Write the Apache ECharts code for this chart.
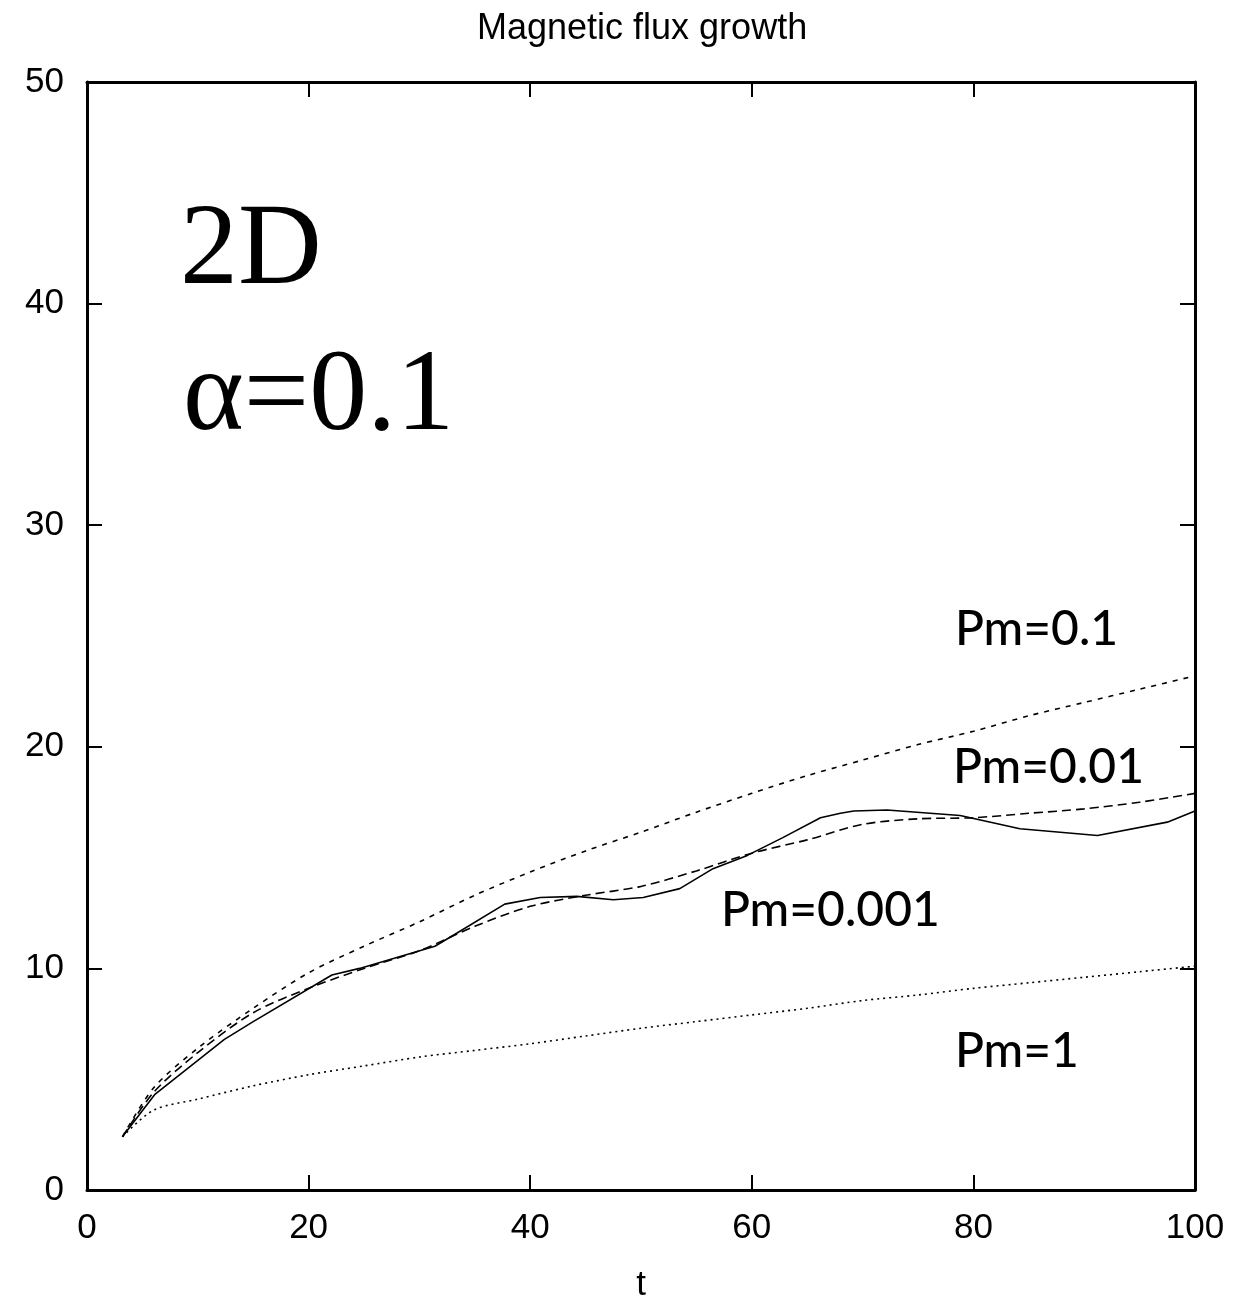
<!DOCTYPE html>
<html>
<head>
<meta charset="utf-8">
<script src="https://cdn.jsdelivr.net/npm/echarts@6/dist/echarts.min.js"></script>
<style>
  html, body { margin: 0; padding: 0; background: #fff; }
  #main { width: 1256px; height: 1299px; }
</style>
</head>
<body>
<div id="main"></div>
<script>
// 数据：时间和磁通值
var tSolid = [3.2, 6.1, 12.4, 15, 22.1, 24.6, 31.4, 33.4, 37.7, 40.9, 44.2, 47.5, 50.2, 53.5, 56.5, 59.6, 62.8, 66.2, 68, 69.2, 72.2, 78.8, 84.2, 91.2, 97.5, 100];
var pm0001 = [2.4, 4.3, 6.8, 7.6, 9.7, 10.0, 11.0, 11.6, 12.9, 13.2, 13.25, 13.1, 13.2, 13.6, 14.5, 15.1, 15.9, 16.8, 17.0, 17.1, 17.15, 16.9, 16.3, 16.0, 16.6, 17.1];

var tSmooth = [3.2, 6, 10, 15, 20, 25, 30, 35, 40, 45, 50, 55, 60, 65, 70, 75, 80, 85, 90, 95, 100];
var pm001 = [2.4, 4.4, 6.2, 8.0, 9.1, 10.0, 10.8, 11.9, 12.8, 13.3, 13.7, 14.4, 15.2, 15.8, 16.5, 16.75, 16.8, 17.0, 17.2, 17.5, 17.9];
var pm01 = [2.4, 4.6, 6.4, 8.2, 9.8, 11.0, 12.1, 13.3, 14.35, 15.3, 16.15, 17.05, 17.9, 18.7, 19.4, 20.1, 20.7, 21.4, 22.0, 22.6, 23.2];
var pm1 = [2.4, 3.6, 4.1, 4.7, 5.2, 5.6, 6.0, 6.3, 6.6, 6.95, 7.3, 7.6, 7.9, 8.2, 8.55, 8.8, 9.1, 9.35, 9.6, 9.85, 10.1];

var xTicks = [0, 20, 40, 60, 80, 100];
var yTicks = [0, 10, 20, 30, 40, 50];

function pairs(xs, ys) {
  return xs.map(function (x, i) { return [x, ys[i]]; });
}

var myChart = echarts.init(document.getElementById('main'));

var axisLine = { show: true, onZero: false, lineStyle: { color: '#000', width: 3 } };
var axisTick = { show: true, inside: true, length: 15, lineStyle: { color: '#000', width: 2 } };
var labelFont = { color: '#000', fontSize: 35, fontFamily: 'Liberation Sans, Arial, sans-serif' };

var option = {
  animation: false,
  backgroundColor: '#fff',
  title: {
    text: 'Magnetic flux growth',
    left: 472,
    top: 6,
    textStyle: { color: '#000', fontSize: 36, fontWeight: 'normal', fontFamily: 'Liberation Sans, Arial, sans-serif' }
  },
  grid: { left: 87, right: 61, top: 82, bottom: 109, containLabel: false, outerBoundsMode: 'none' },
  xAxis: [
    {
      type: 'value', min: xTicks[0], max: xTicks[xTicks.length - 1], interval: 20,
      name: 't', nameLocation: 'middle', nameGap: 78,
      nameTextStyle: labelFont,
      axisLine: axisLine, axisTick: axisTick,
      axisLabel: Object.assign({ margin: 21 }, labelFont),
      splitLine: { show: false }
    },
    {
      type: 'value', position: 'top', min: 0, max: 100, interval: 20,
      axisLine: axisLine, axisTick: axisTick,
      axisLabel: { show: false }, splitLine: { show: false }
    }
  ],
  yAxis: [
    {
      type: 'value', min: yTicks[0], max: yTicks[yTicks.length - 1], interval: 10,
      axisLine: axisLine, axisTick: axisTick,
      axisLabel: Object.assign({ margin: 23 }, labelFont),
      splitLine: { show: false }
    },
    {
      type: 'value', position: 'right', min: 0, max: 50, interval: 10,
      axisLine: axisLine, axisTick: axisTick,
      axisLabel: { show: false }, splitLine: { show: false }
    }
  ],
  series: [
    {
      name: 'Pm=0.001', type: 'line', showSymbol: false, data: pairs(tSolid, pm0001),
      lineStyle: { color: '#000', width: 1.6, type: 'solid' }
    },
    {
      name: 'Pm=0.01', type: 'line', showSymbol: false, smooth: 0.3, data: pairs(tSmooth, pm001),
      lineStyle: { color: '#000', width: 1.6, type: [9, 5] }
    },
    {
      name: 'Pm=0.1', type: 'line', showSymbol: false, smooth: 0.3, data: pairs(tSmooth, pm01),
      lineStyle: { color: '#000', width: 1.6, type: [5, 6] }
    },
    {
      name: 'Pm=1', type: 'line', showSymbol: false, smooth: 0.3, data: pairs(tSmooth, pm1),
      lineStyle: { color: '#000', width: 1.6, type: [2, 4] }
    }
  ],
  graphic: [
    { type: 'text', left: 180, top: 195, style: { text: '2D', fontSize: 116, fontFamily: 'Liberation Serif, Times New Roman, serif', fill: '#000' } },
    { type: 'text', left: 183, top: 341, style: { text: 'α=0.1', fontSize: 116, fontFamily: 'Liberation Serif, Times New Roman, serif', fill: '#000' } },
    { type: 'text', left: 955, top: 606, style: { text: 'Pm=0.1', fontSize: 48, fontWeight: 500, fontFamily: 'Lato, sans-serif', fill: '#000' } },
    { type: 'text', left: 953, top: 744, style: { text: 'Pm=0.01', fontSize: 48, fontWeight: 500, fontFamily: 'Lato, sans-serif', fill: '#000' } },
    { type: 'text', left: 721, top: 887, style: { text: 'Pm=0.001', fontSize: 48, fontWeight: 500, fontFamily: 'Lato, sans-serif', fill: '#000' } },
    { type: 'text', left: 955, top: 1028, style: { text: 'Pm=1', fontSize: 48, fontWeight: 500, fontFamily: 'Lato, sans-serif', fill: '#000' } }
  ]
};

myChart.setOption(option);
</script>
</body>
</html>
